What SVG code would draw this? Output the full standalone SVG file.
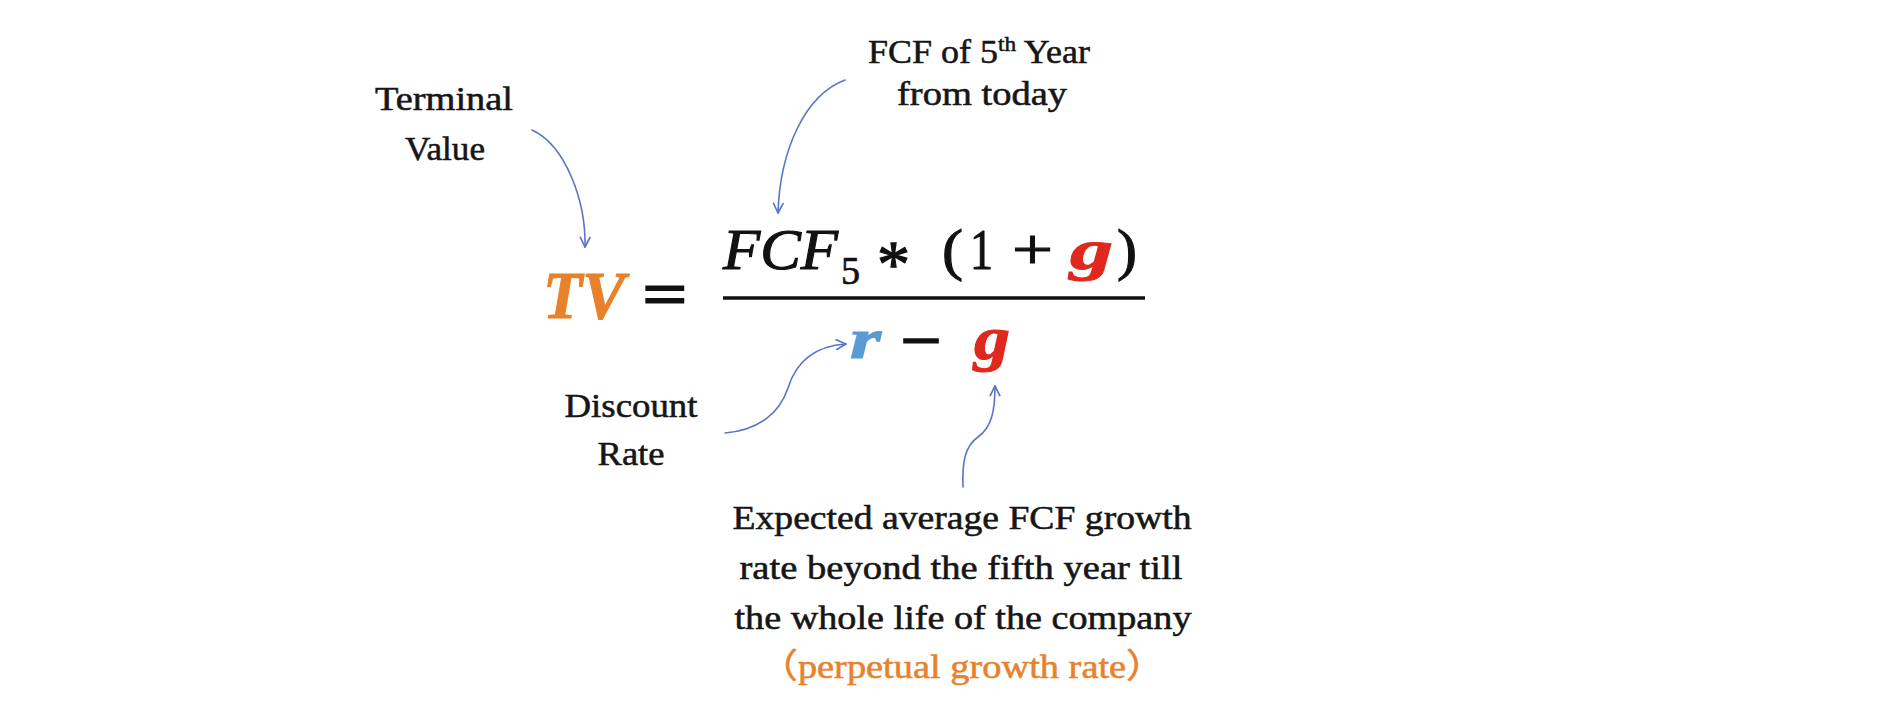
<svg xmlns="http://www.w3.org/2000/svg" width="1900" height="712" viewBox="0 0 1900 712">
<defs>
<style>
.lbl{font-family:"Liberation Serif","DejaVu Serif",serif;font-size:34px;fill:#161616;stroke:#161616;stroke-width:0.55;text-anchor:middle}
.math{font-family:"Liberation Serif","DejaVu Serif",serif;font-size:58px;fill:#111;stroke:#111;stroke-width:1.1}
.it{font-style:italic}
.bd{font-weight:bold}
.orange{fill:#E8822A;stroke:#E8822A}
.red{fill:#E0281E;stroke:#E0281E}
.blue{fill:#5B9BD5;stroke:#5B9BD5}
.conn{fill:none;stroke:#5A74C8;stroke-width:1.6;stroke-linecap:round;marker-end:url(#arr)}
</style>
<marker id="arr" viewBox="0 0 10 10" refX="9" refY="5" markerWidth="12" markerHeight="12" markerUnits="userSpaceOnUse" orient="auto">
<path d="M1,1 L9,5 L1,9" fill="none" stroke="#5A74C8" stroke-width="1.4" stroke-linecap="round" stroke-linejoin="round"/>
</marker>
</defs>
<rect width="1900" height="712" fill="#ffffff"/>

<g id="formula">
<text class="math it bd orange" x="543" y="318" style="font-size:68px" textLength="82" lengthAdjust="spacingAndGlyphs">TV</text>
<text class="math bd" x="642" y="316" style="font-size:64px" textLength="46" lengthAdjust="spacingAndGlyphs">=</text>
<text class="math it" x="723" y="269" textLength="115" lengthAdjust="spacingAndGlyphs">FCF</text>
<text class="math" x="841" y="284" style="font-size:41px;stroke-width:0.7" textLength="19" lengthAdjust="spacingAndGlyphs">5</text>
<text class="math" x="877" y="286" style="font-size:66px;stroke-width:1.3">*</text>
<text class="math" x="942" y="269" textLength="21" lengthAdjust="spacingAndGlyphs">(</text>
<text class="math" x="970" y="269" textLength="23" lengthAdjust="spacingAndGlyphs">1</text>
<text class="math" x="1012" y="269" textLength="41" lengthAdjust="spacingAndGlyphs">+</text>
<text class="math it bd red" x="1070" y="269" textLength="43" lengthAdjust="spacingAndGlyphs">g</text>
<text class="math" x="1117" y="269" textLength="20" lengthAdjust="spacingAndGlyphs">)</text>
<line x1="723" y1="298" x2="1145" y2="298" stroke="#111" stroke-width="3.5"/>
<text class="math it bd blue" x="850" y="358" textLength="31" lengthAdjust="spacingAndGlyphs">r</text>
<text class="math bd" x="900" y="360" textLength="42" lengthAdjust="spacingAndGlyphs">−</text>
<text class="math it bd red" x="974" y="359" style="font-size:61px" textLength="36" lengthAdjust="spacingAndGlyphs">g</text>
</g>

<g id="terminal-value">
<text class="lbl" x="444" y="110" textLength="138" lengthAdjust="spacingAndGlyphs">Terminal</text>
<text class="lbl" x="445" y="160" textLength="80" lengthAdjust="spacingAndGlyphs">Value</text>
</g>

<g id="fcf-label">
<text class="lbl" x="979" y="63" textLength="222" lengthAdjust="spacingAndGlyphs">FCF of 5<tspan style="font-size:22px" dy="-12">th</tspan><tspan dy="12"> Year</tspan></text>
<text class="lbl" x="982" y="105" textLength="170" lengthAdjust="spacingAndGlyphs">from today</text>
</g>

<g id="discount-rate">
<text class="lbl" x="631" y="417" textLength="133" lengthAdjust="spacingAndGlyphs">Discount</text>
<text class="lbl" x="631" y="465" textLength="67" lengthAdjust="spacingAndGlyphs">Rate</text>
</g>

<g id="growth-label">
<text class="lbl" x="962" y="529" textLength="459" lengthAdjust="spacingAndGlyphs">Expected average FCF growth</text>
<text class="lbl" x="961" y="579" textLength="443" lengthAdjust="spacingAndGlyphs">rate beyond the fifth year till</text>
<text class="lbl" x="963" y="629" textLength="457" lengthAdjust="spacingAndGlyphs">the whole life of the company</text>
<text class="lbl orange" x="962" y="678" textLength="405" lengthAdjust="spacingAndGlyphs" style="font-family:'Liberation Serif','Noto Sans CJK SC',serif">（perpetual growth rate）</text>
</g>

<g id="connectors">
<path class="conn" d="M532,130 C565,145 586,200 585,247"/>
<path class="conn" d="M845,80 C805,95 780,150 778,213"/>
<path class="conn" d="M725,433 C760,430 780,412 788,388 C796,362 815,346 846,344"/>
<path class="conn" d="M963,487 C962,462 965,446 978,437 C992,427 995,410 995,386"/>
</g>
</svg>
